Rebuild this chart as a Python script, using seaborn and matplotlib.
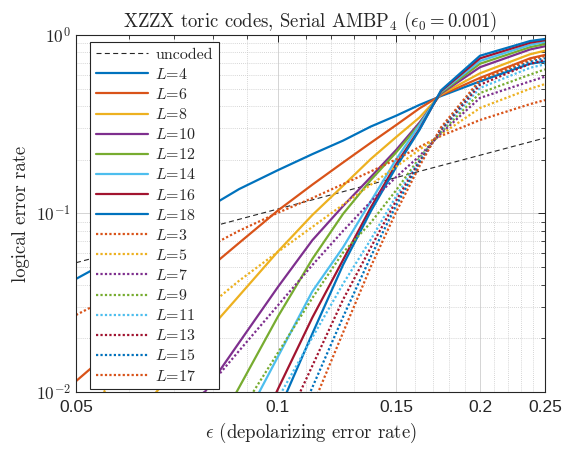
import numpy as np
import pandas as pd
import matplotlib
matplotlib.use("Agg")
import matplotlib.pyplot as plt
import seaborn as sns
from matplotlib.ticker import FixedLocator, FixedFormatter, NullFormatter

nan = np.nan

# ---------------- data ----------------
eps = [0.05, 0.0625, 0.075, 0.0875, 0.1, 0.1125, 0.125, 0.1375, 0.15, 0.1625, 0.175, 0.2, 0.2375, 0.25]

uncoded_x = [0.05, 0.25]
uncoded_y = [0.053, 0.265]

# even L (solid)
L4 = [0.043, 0.068, 0.097, 0.137, 0.175, 0.215, 0.256, 0.307, 0.353, 0.406, 0.455, 0.55, 0.69, 0.71]
L6 = [0.0115, 0.0237, 0.042, 0.0684, 0.104, 0.145, 0.193, 0.249, 0.313, 0.388, 0.46, 0.575, 0.74, 0.773]
L8 = [nan, 0.0079, 0.0179, 0.0346, 0.0613, 0.098, 0.143, 0.202, 0.268, 0.345, 0.465, 0.61, 0.78, 0.817]
L10 = [nan, nan, 0.0082, 0.0189, 0.0388, 0.0708, 0.110, 0.160, 0.227, 0.323, 0.47, 0.66, 0.83, 0.865]
L12 = [nan, nan, 0.0037, 0.0106, 0.0265, 0.0556, 0.0994, 0.154, 0.220, 0.316, 0.475, 0.69, 0.855, 0.89]
L14 = [nan, nan, nan, 0.0061, 0.0158, 0.0366, 0.0646, 0.117, 0.201, 0.313, 0.48, 0.715, 0.88, 0.915]
L16 = [nan, nan, nan, 0.0036, 0.0104, 0.0261, 0.0549, 0.108, 0.189, 0.297, 0.485, 0.74, 0.905, 0.935]
L18 = [nan, nan, nan, nan, 0.0077, 0.0212, 0.0515, 0.103, 0.182, 0.294, 0.49, 0.765, 0.925, 0.95]

# odd L (dotted)
L3 = [0.027, 0.0415, 0.059, 0.08, 0.101, 0.122, 0.146, 0.172, 0.201, 0.236, 0.272, 0.334, 0.41, 0.432]
L5 = [0.0075, 0.0148, 0.026, 0.042, 0.061, 0.084, 0.112, 0.145, 0.183, 0.228, 0.277, 0.39, 0.50, 0.531]
L7 = [nan, nan, 0.0086, 0.017, 0.0306, 0.0514, 0.0798, 0.1167, 0.16, 0.21, 0.281, 0.444, 0.55, 0.584]
L9 = [nan, nan, nan, 0.0075, 0.0166, 0.0336, 0.0604, 0.0889, 0.135, 0.205, 0.285, 0.473, 0.60, 0.642]
L11 = [nan, nan, nan, nan, 0.0092, 0.0202, 0.0403, 0.0715, 0.125, 0.20, 0.29, 0.505, 0.655, 0.685]
L13 = [nan, nan, nan, nan, 0.0054, 0.014, 0.0329, 0.0645, 0.118, 0.196, 0.294, 0.526, 0.69, 0.724]
L15 = [nan, nan, nan, nan, 0.0039, 0.0106, 0.0263, 0.0573, 0.111, 0.191, 0.299, 0.548, 0.71, 0.741]
L17 = [nan, nan, nan, nan, nan, 0.0083, 0.0215, 0.0504, 0.102, 0.184, 0.304, 0.56, 0.725, 0.763]

even_labels = ["4", "6", "8", "10", "12", "14", "16", "18"]
odd_labels = ["3", "5", "7", "9", "11", "13", "15", "17"]
even_series = [L4, L6, L8, L10, L12, L14, L16, L18]
odd_series = [L3, L5, L7, L9, L11, L13, L15, L17]

xticks = [0.05, 0.1, 0.15, 0.2, 0.25]
xticklabels = ["0.05", "0.1", "0.15", "0.2", "0.25"]
yticks = [0.01, 0.1, 1.0]
yticklabels = [r"$\mathsf{10^{-2}}$", r"$\mathsf{10^{-1}}$", r"$\mathsf{10^{0}}$"]

title = r"XZZX toric codes, Serial AMBP$_4$ ($\epsilon_0 = 0.001$)"
xlabel = r"$\epsilon$ (depolarizing error rate)"
ylabel = "logical error rate"

# ---------------- style ----------------
sns.set_style("white")
plt.rcParams["mathtext.fontset"] = "cm"
plt.rcParams["axes.formatter.use_mathtext"] = True

even_colors = ["#0072BD", "#D95319", "#EDB120", "#7E2F8E", "#77AC30", "#4DBEEE", "#A2142F", "#0072BD"]
odd_colors = ["#D95319", "#EDB120", "#7E2F8E", "#77AC30", "#4DBEEE", "#A2142F", "#0072BD", "#D95319"]

fig = plt.figure(figsize=(5.63, 4.51), dpi=100)
ax = fig.add_axes([76 / 563, 1 - 392 / 451, 469 / 563, 357 / 451])
ax.set_xscale("log")
ax.set_yscale("log")

def draw(xs, ys, color, ls, lw, label):
    df = pd.DataFrame({"x": xs, "y": ys}).dropna()
    sns.lineplot(data=df, x="x", y="y", ax=ax, color=color, linestyle=ls,
                 linewidth=lw, label=label, estimator=None, sort=False, legend=False)

draw(uncoded_x, uncoded_y, "#262626", (0, (4.5, 3)), 0.8, "uncoded")
for lab, ys, c in zip(even_labels, even_series, even_colors):
    draw(eps, ys, c, "-", 1.6, r"$L$=" + lab)
for lab, ys, c in zip(odd_labels, odd_series, odd_colors):
    draw(eps, ys, c, (0, (1, 1.0)), 1.6, r"$L$=" + lab)

ax.set_xlim(0.05, 0.25)
ax.set_ylim(0.01, 1.0)

ax.xaxis.set_major_locator(FixedLocator(xticks))
ax.xaxis.set_major_formatter(FixedFormatter(xticklabels))
xminor = [round(0.05 + 0.01 * i, 2) for i in range(1, 20)]
xminor = [v for v in xminor if v not in xticks]
ax.xaxis.set_minor_locator(FixedLocator(xminor))
ax.xaxis.set_minor_formatter(NullFormatter())

ax.yaxis.set_major_locator(FixedLocator(yticks))
ax.yaxis.set_major_formatter(FixedFormatter(yticklabels))
yminor = [m * 10.0 ** e for e in (-2, -1) for m in range(2, 10)]
ax.yaxis.set_minor_locator(FixedLocator(yminor))
ax.yaxis.set_minor_formatter(NullFormatter())

ax.grid(True, which="major", color="#d4d4d4", linewidth=0.7, linestyle="-")
ax.grid(True, which="minor", color="#c8c8c8", linewidth=0.6, linestyle=(0, (1, 1.5)))
ax.set_axisbelow(True)

for sp in ax.spines.values():
    sp.set_color("#262626")
    sp.set_linewidth(0.8)
ax.tick_params(which="both", direction="in", top=True, right=True, colors="#262626")
ax.tick_params(which="major", length=5, width=0.7, labelsize=12.5)
ax.tick_params(which="minor", length=2.8, width=0.6)
for t in ax.get_xticklabels():
    t.set_fontfamily("Liberation Sans")
ax.tick_params(axis="x", pad=6)

ax.set_title(title, fontfamily="cmr10", fontsize=13.5, pad=6)
ax.set_xlabel(xlabel, fontfamily="cmr10", fontsize=13.5, labelpad=4)
ax.set_ylabel(ylabel, fontfamily="cmr10", fontsize=13.5, labelpad=4)

leg = ax.legend(loc="upper left", bbox_to_anchor=(14 / 469, 1 - 7 / 357), borderaxespad=0,
                prop={"family": "cmr10", "size": 11.5}, frameon=True, fancybox=False,
                edgecolor="#262626", framealpha=1.0, handlelength=3.3, handletextpad=0.45,
                labelspacing=0.32, borderpad=0.35)
leg.get_frame().set_linewidth(0.8)

fig.savefig("out.png", dpi=100)
